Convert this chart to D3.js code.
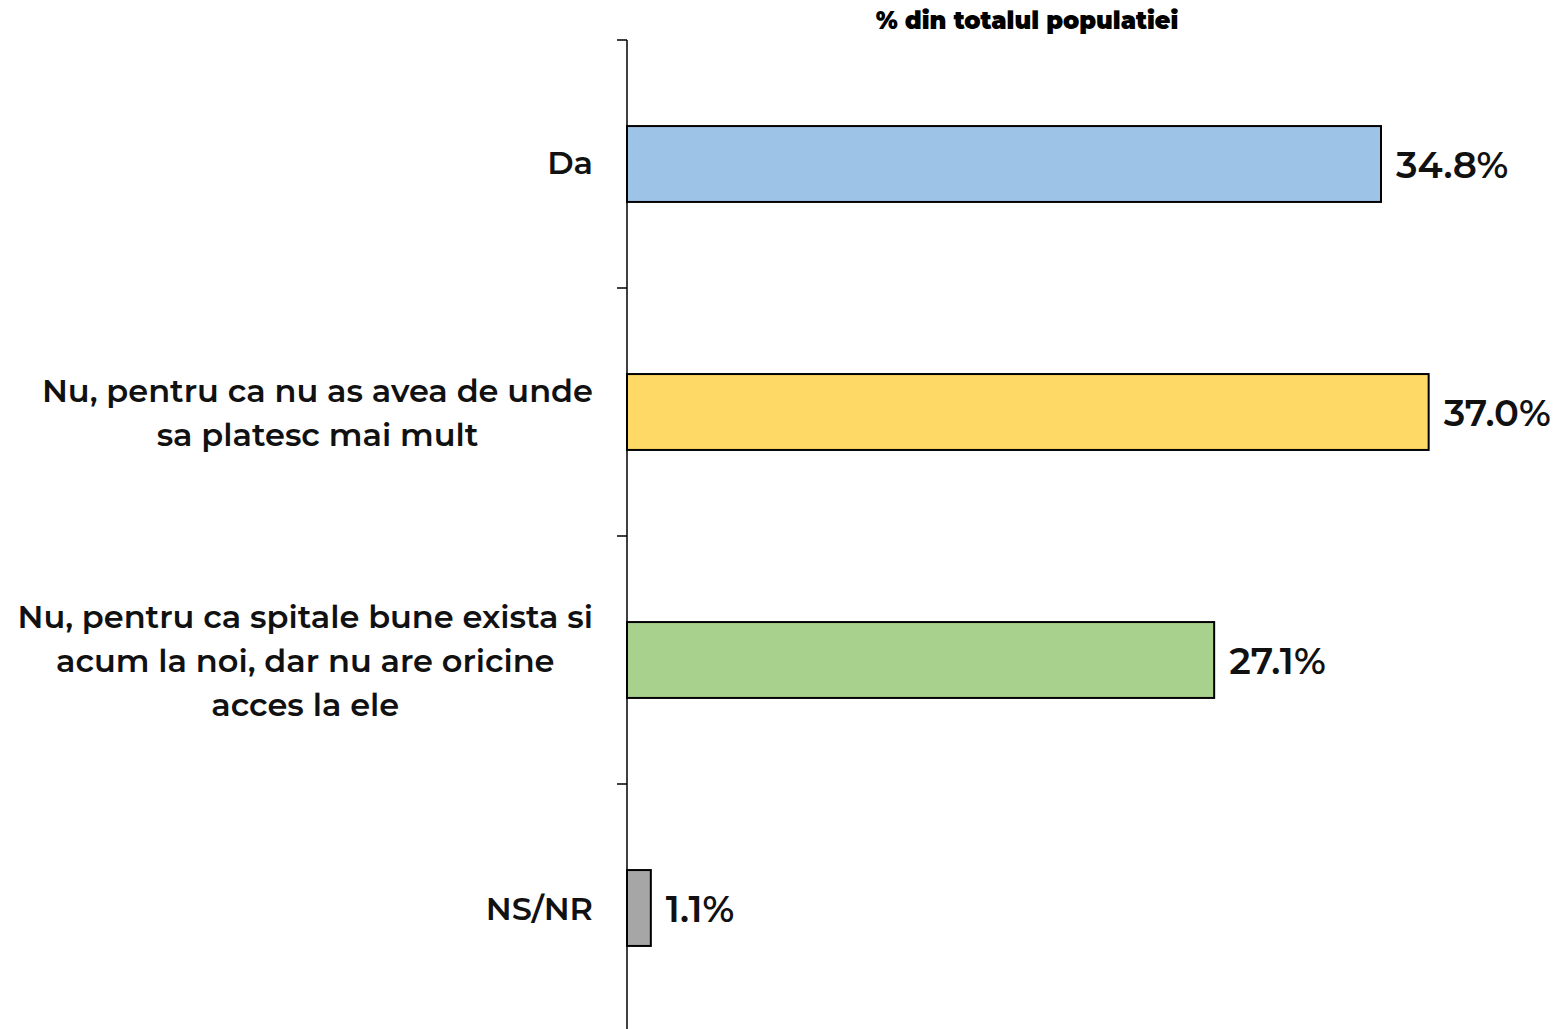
<!DOCTYPE html>
<html>
<head>
<meta charset="utf-8">
<script src="https://cdn.jsdelivr.net/npm/d3@7"></script>
<style>
  body { margin: 0; background: #fff; }
  text { font-family: Montserrat, "Noto Sans", sans-serif; }
</style>
</head>
<body>
<div id="chart"></div>
<script>
var categories = ["Da", "Nu1", "Nu2", "NSNR"];
var labelLines = [
  ["Da"],
  ["Nu, pentru ca nu as avea de unde", "sa platesc mai mult"],
  ["Nu, pentru ca spitale bune exista si", "acum la noi, dar nu are oricine", "acces la ele"],
  ["NS/NR"]
];
var values = [34.8, 37.0, 27.1, 1.1];
var colors = ["#9dc3e6", "#ffd966", "#a9d18e", "#a6a6a6"];
var title = "% din totalul populatiei";

var width = 1560, height = 1029;
var margin = { top: 40, left: 627 };

var svg = d3.select("#chart")
  .append("svg")
  .attr("width", width)
  .attr("height", height);

var x = d3.scaleLinear()
  .domain([0, 34.8])
  .range([margin.left, margin.left + 754]);

var y = d3.scaleBand()
  .domain(categories)
  .range([margin.top, margin.top + 992])
  .paddingInner(0)
  .paddingOuter(0);

var yBar = d3.scaleBand()
  .domain(categories)
  .range([margin.top, margin.top + 992])
  .paddingInner(0.694)
  .paddingOuter(0.347);

// axis line + ticks at band boundaries
svg.append("line")
  .attr("x1", margin.left).attr("x2", margin.left)
  .attr("y1", margin.top).attr("y2", height + 5)
  .attr("stroke", "#000").attr("stroke-width", 1.5);

svg.selectAll(".tick")
  .data(categories)
  .enter()
  .append("line")
  .attr("x1", margin.left - 10).attr("x2", margin.left)
  .attr("y1", d => y(d)).attr("y2", d => y(d))
  .attr("stroke", "#000").attr("stroke-width", 1.5);

// bars
svg.selectAll(".bar")
  .data(categories)
  .enter()
  .append("rect")
  .attr("x", x(0))
  .attr("y", d => yBar(d))
  .attr("width", (d, i) => x(values[i]) - x(0))
  .attr("height", yBar.bandwidth())
  .attr("fill", (d, i) => colors[i])
  .attr("stroke", "#000")
  .attr("stroke-width", 2);

// value labels
svg.selectAll(".val")
  .data(categories)
  .enter()
  .append("text")
  .attr("x", (d, i) => x(values[i]) + 15)
  .attr("y", d => y(d) + y.bandwidth() / 2 + 1)
  .attr("dy", "0.36em")
  .attr("font-size", 37)
  .attr("font-weight", 600)
  .attr("fill", "#111")
  .text((d, i) => values[i].toFixed(1) + "%");

// category labels, centered lines, widest line ending at 593
var lineH = 44;
var labelRight = 593;
var labels = svg.selectAll(".lab")
  .data(categories)
  .enter()
  .append("text")
  .attr("text-anchor", "middle")
  .attr("font-size", 32)
  .attr("font-weight", 600)
  .attr("fill", "#111");

labels.each(function(d, i) {
  var lines = labelLines[i];
  var cy = y(d) + y.bandwidth() / 2 - (i == 0 ? 2 : 0);
  var start = cy - (lines.length - 1) * lineH / 2;
  var spans = d3.select(this).selectAll("tspan")
    .data(lines)
    .enter()
    .append("tspan")
    .attr("y", (l, j) => start + j * lineH)
    .attr("dy", "0.36em")
    .text(l => l);
  var maxW = 0;
  spans.each(function() { maxW = Math.max(maxW, this.getComputedTextLength()); });
  spans.attr("x", labelRight - maxW / 2);
});

// title
svg.append("text")
  .attr("x", 1027)
  .attr("y", 20)
  .attr("dy", "0.36em")
  .attr("text-anchor", "middle")
  .attr("font-size", 24)
  .attr("font-weight", 900)
  .text(title);
</script>
</body>
</html>
